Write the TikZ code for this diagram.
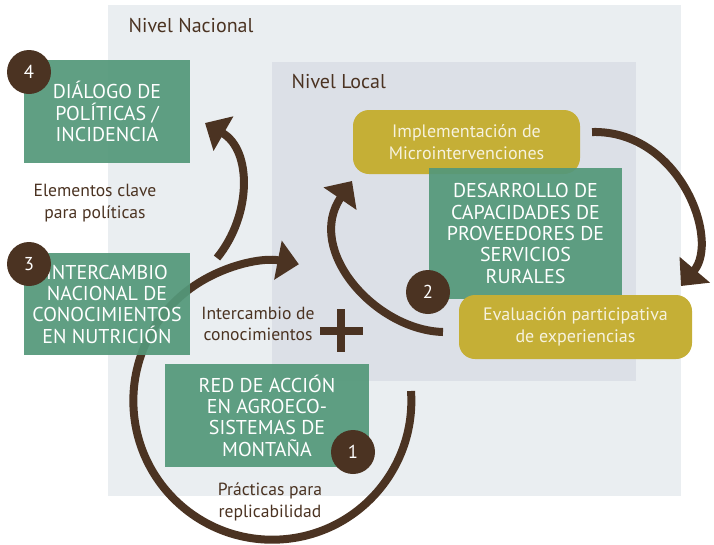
\documentclass[tikz,border=0pt]{standalone}
\usepackage{fontspec}
\setmainfont{PT Sans}
\usetikzlibrary{arrows.meta}

\definecolor{fondo}{HTML}{EAEEF1}
\definecolor{fondolocal}{HTML}{DCE0E7}
\definecolor{verde}{HTML}{54987A}
\definecolor{cafe}{HTML}{4B3322}
\definecolor{oro}{HTML}{C5AF36}
\definecolor{crema}{HTML}{F6F2DE}

\begin{document}
\begin{tikzpicture}[x=0.75pt,y=-0.75pt,
    caja/.style={fill=verde, fill opacity=0.93, text opacity=1, text=white, align=center,
      inner sep=0pt, font=\fontsize{15}{16}\selectfont},
    pastilla/.style={fill=oro, rounded corners=12pt, text=crema, align=center,
      inner sep=0pt, minimum height=48pt, font=\fontsize{13.5}{16.5}\selectfont},
    numero/.style={circle, fill=cafe, text=white, minimum size=33pt, inner sep=0pt,
      font=\fontsize{14}{14}\selectfont},
    nota/.style={text=cafe, align=center, font=\fontsize{13.2}{16}\selectfont},
    nivel/.style={text=cafe, anchor=west, font=\fontsize{15}{16}\selectfont},
    flecha/.style={draw=cafe, line width=6pt, -{Triangle[width=29pt,length=16pt]}}]
  \useasboundingbox (0,0) rectangle (714,544);

  % fondos
  \fill[fondo] (108,5) rectangle (681,496);
  \fill[fondolocal] (272,62) rectangle (636,381);
  \node[nivel] (nacional) at (124,26) {Nivel Nacional};
  \node[nivel] (local) at (287,82) {Nivel Local};

  % ciclo grande
  \coordinate (c1) at (411,391);
  \draw[flecha] (c1) arc[start angle=-4, end angle=281, radius=139];

  % cajas
  \node[caja, minimum width=124.5pt, minimum height=77.25pt] (dialogo) at (107,111.5)
    {DIÁLOGO DE\\POLÍTICAS /\\INCIDENCIA};
  \node[caja, minimum width=124.5pt, minimum height=76.5pt] (intercambio) at (107,304)
    {INTERCAMBIO\\NACIONAL DE\\CONOCIMIENTOS\\EN NUTRICIÓN};
  \node[caja, minimum width=153pt, minimum height=77.25pt] (red) at (267,415.5)
    {RED DE ACCIÓN\\EN AGROECO-\\SISTEMAS DE\\MONTAÑA};
  \node[pastilla, minimum width=170.25pt] (implementacion) at (466.5,142)
    {Implementación de\\Microintervenciones};
  \node[caja, minimum width=144.75pt, minimum height=98.25pt] (desarrollo) at (525.5,233.5)
    {DESARROLLO DE\\CAPACIDADES DE\\PROVEEDORES DE\\SERVICIOS\\RURALES};
  \node[pastilla, minimum width=174.75pt] (evaluacion) at (575.5,327)
    {Evaluación participativa\\de experiencias};

  % numeros
  \node[numero] (n4) at (29,72) {4};
  \node[numero] (n3) at (29,264) {3};
  \node[numero] (n2) at (428,292) {2};
  \node[numero] (n1) at (353,452) {1};

  % textos
  \node[nota] (elementos) at (95,203) {Elementos clave\\para políticas};
  \node[nota] (conocimientos) at (258,324) {Intercambio de\\conocimientos};
  \node[nota] (practicas) at (270,502) {Prácticas para\\replicabilidad};
  \draw[cafe, line width=6.5pt] (320,331) -- (363,331) (341,309) -- (341,352);

  % flechas
  \coordinate (a3) at (217,258);
  \coordinate (a4) at (205,123);
  \draw[flecha] (a3) .. controls (252,215) and (252,150) .. (a4);
  \coordinate (e1) at (443,332);
  \coordinate (e2) at (352,181);
  \draw[flecha] (e1) .. controls (375,330) and (305,250) .. (e2);
  \coordinate (m1) at (592,132);
  \coordinate (m2) at (681,286);
  \draw[flecha] (m1) .. controls (680,130) and (720,240) .. (m2);
\end{tikzpicture}
\end{document}
